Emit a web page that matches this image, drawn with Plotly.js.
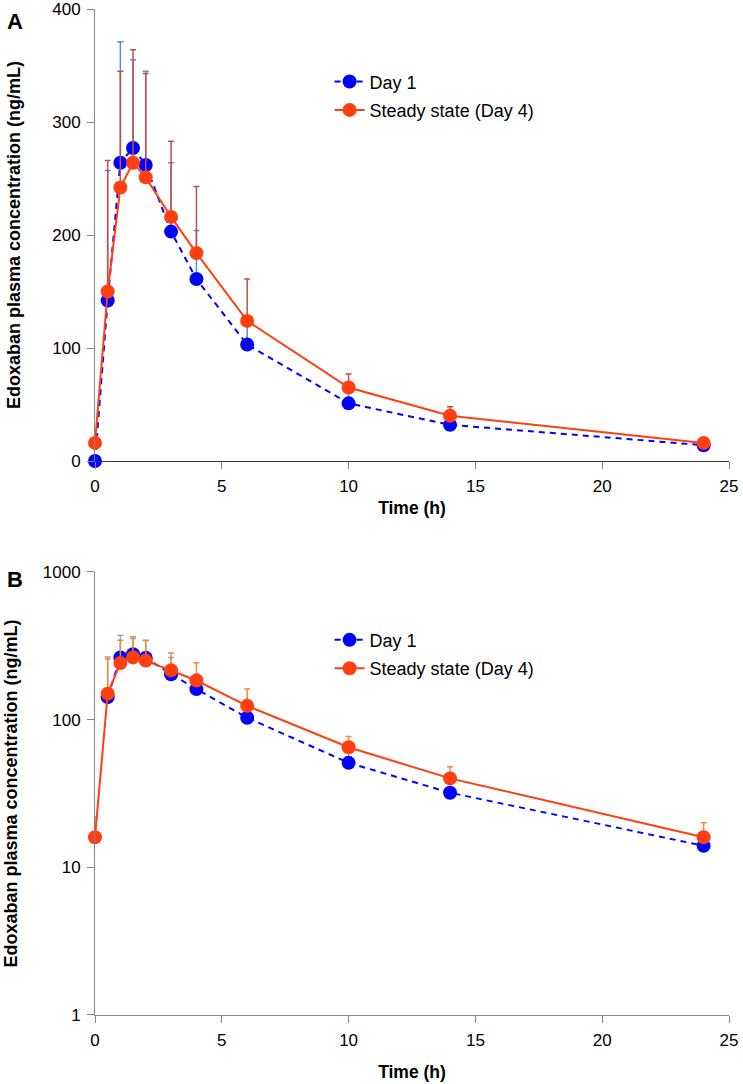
<!DOCTYPE html>
<html>
<head>
<meta charset="utf-8">
<script src="https://cdn.plot.ly/plotly-3.0.1.min.js"></script>
<style>
  html, body { margin: 0; padding: 0; background: #fff; }
  #chart { width: 743px; height: 1084px; }
</style>
</head>
<body>
<div id="chart"></div>
<script>
// Edoxaban plasma concentration, mean + SD (upper bar only)
const timeH = [0, 0.5, 1, 1.5, 2, 3, 4, 6, 10, 14, 24];
const day1Mean = [0, 142, 264, 277, 262, 203, 161, 103, 51, 32, 14];
const day1SD = [0, 115, 107, 78, 83, 61, 43, 25, 9, 6, 3];
const ssMean = [16, 150, 242, 264, 251, 216, 184, 124, 65, 40, 16];
const ssSD = [6, 116, 103, 100, 92, 67, 59, 37, 12, 8, 4];

const seriesNames = ['Day 1', 'Steady state (Day 4)'];
const logTickVals = [1, 10, 100, 1000];
const logTickText = ['1', '10', '100', '1000'];

const FONT = 'Liberation Sans, Arial, sans-serif';
const BLUE = '#0000FF';
const RED = '#FF3F0F';

// zero can't sit on a log axis, so the log panel just skips it
const positiveOnly = arr => arr.map(v => (v > 0 ? v : null));

function makeTraces(xa, ya, legendId, barBlue, barRed, isLog) {
  const zeros = timeH.map(() => 0);
  return [
    {
      x: timeH, y: isLog ? positiveOnly(day1Mean) : day1Mean, xaxis: xa, yaxis: ya,
      name: seriesNames[0], legend: legendId, legendgroup: legendId + 'a',
      type: 'scatter', mode: 'lines+markers', cliponaxis: false,
      line: { color: BLUE, width: 2, dash: '6px,5px' },
      marker: { color: BLUE, size: 14 },
      error_y: { type: 'data', symmetric: false, array: day1SD, arrayminus: zeros,
                 color: barBlue, thickness: 1.5, width: 3 }
    },
    {
      x: timeH, y: ssMean, xaxis: xa, yaxis: ya,
      name: seriesNames[1], legend: legendId, legendgroup: legendId + 'b',
      type: 'scatter', mode: 'lines+markers', cliponaxis: false,
      line: { color: RED, width: 2 },
      marker: { color: RED, size: 14 },
      error_y: { type: 'data', symmetric: false, array: ssSD, arrayminus: zeros,
                 color: barRed, thickness: 1.5, width: 3 }
    }
  ];
}

const traces = [
  ...makeTraces('x', 'y', 'legend', '#5B8BD0', '#C0504D', false),
  ...makeTraces('x2', 'y2', 'legend2', '#8FA7C8', '#F08A3C', true)
];

const axisCommon = {
  showgrid: false, zeroline: false, showline: true,
  linecolor: '#868686', linewidth: 1,
  ticks: 'outside', ticklen: 7, tickcolor: '#868686',
  ticklabeloverflow: 'allow',
  tickfont: { family: FONT, size: 17, color: '#000' }
};

const yTitle = {
  text: '<b>Edoxaban plasma concentration (ng/mL)</b>',
  font: { family: FONT, size: 18, color: '#000' },
  standoff: 26
};
const xTitle = {
  text: '<b>Time (h)</b>',
  font: { family: FONT, size: 17.5, color: '#000' },
  standoff: 6
};

const legendCommon = {
  x: 0.37, xanchor: 'left', yanchor: 'top',
  bgcolor: 'rgba(0,0,0,0)', borderwidth: 0,
  font: { family: FONT, size: 18, color: '#000' },
  tracegroupgap: 2
};

const layout = {
  width: 743, height: 1084,
  margin: { l: 95, r: 14, t: 9, b: 69 },
  paper_bgcolor: '#fff', plot_bgcolor: '#fff',
  font: { family: FONT, color: '#000' },
  showlegend: true,
  legend: { ...legendCommon, y: 0.946 },
  legend2: { ...legendCommon, y: 0.391 },
  xaxis: { ...axisCommon, domain: [0, 1], anchor: 'y', range: [0, 25], dtick: 5,
           linecolor: '#333', title: xTitle, ticklabelstandoff: 3 },
  yaxis: { ...axisCommon, domain: [0.5507, 1], anchor: 'x', range: [0, 400], dtick: 100,
           title: yTitle, ticklabelstandoff: 3 },
  xaxis2: { ...axisCommon, domain: [0, 1], anchor: 'y2', range: [0, 25], dtick: 5,
            title: { ...xTitle, standoff: 16 }, ticklabelstandoff: 3 },
  yaxis2: { ...axisCommon, domain: [0, 0.4404], anchor: 'x2', type: 'log', range: [0, 3],
            tickvals: logTickVals, ticktext: logTickText,
            title: { ...yTitle, standoff: 20 }, ticklabelstandoff: 3 },
  annotations: [
    { text: '<b>A</b>', xref: 'paper', yref: 'paper', x: -0.142, y: 1.002,
      xanchor: 'left', yanchor: 'top', showarrow: false,
      font: { family: FONT, size: 22, color: '#000' } },
    { text: '<b>B</b>', xref: 'paper', yref: 'paper', x: -0.142, y: 0.447,
      xanchor: 'left', yanchor: 'top', showarrow: false,
      font: { family: FONT, size: 22, color: '#000' } }
  ]
};

Plotly.newPlot('chart', traces, layout, { displayModeBar: false, responsive: false });
</script>
</body>
</html>
